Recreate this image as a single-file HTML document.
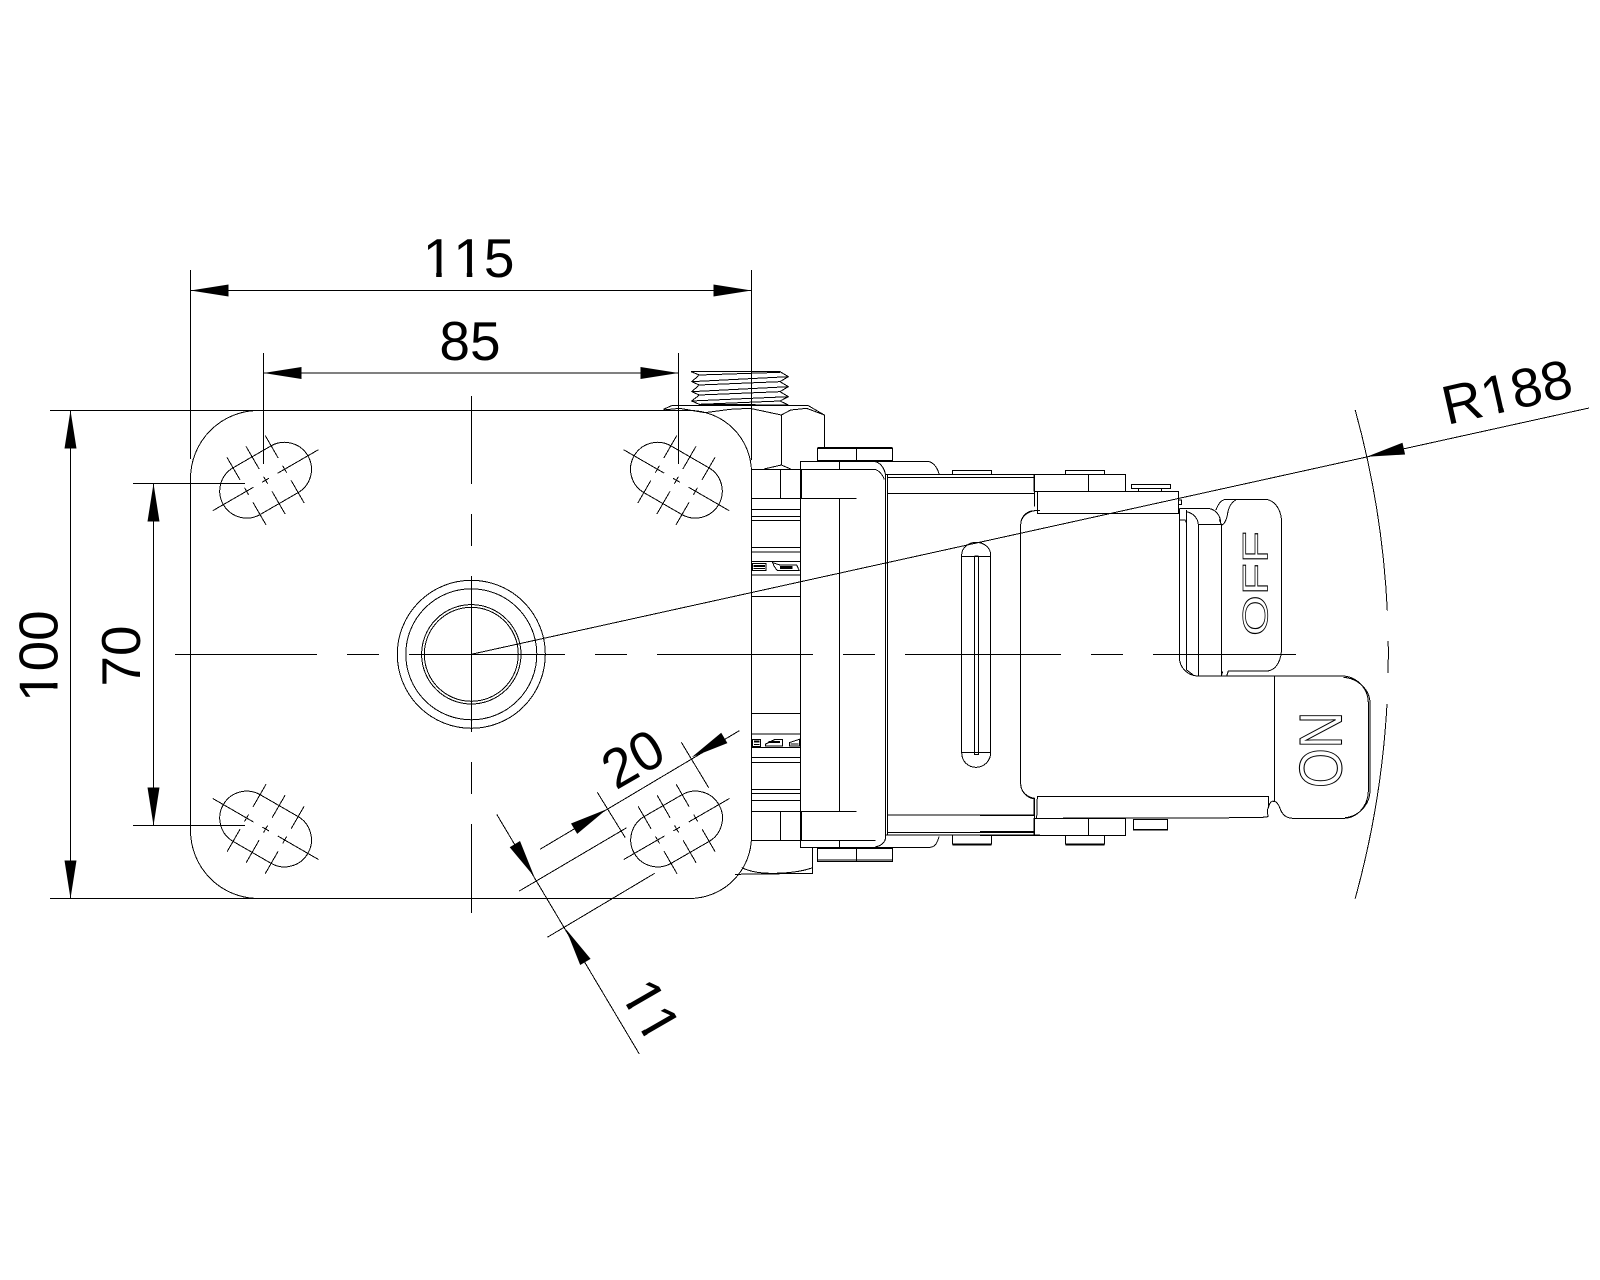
<!DOCTYPE html>
<html><head><meta charset="utf-8"><style>
html,body{margin:0;padding:0;background:#fff}
svg{display:block}
.l *{fill:none;stroke:#000;stroke-width:1;vector-effect:non-scaling-stroke}
text{font-family:"Liberation Sans",sans-serif;font-kerning:none}
.d{font-size:55px;fill:#000}
.o{fill:#fff;stroke:#000;stroke-width:1;vector-effect:non-scaling-stroke}
.w{fill:#fff}
</style></head><body>
<svg width="1600" height="1280" viewBox="0 0 1600 1280" xmlns="http://www.w3.org/2000/svg">
<rect width="1600" height="1280" fill="#fff"/>
<defs>
<g id="s">
<path d="M-21.8,-27H21.8A27,27 0 0 1 21.8,27H-21.8A27,27 0 0 1 -21.8,-27Z"/>
<path d="M-61,0H-14M14,0H61M-4,0H4M0,-4V4M-22,-4V4M22,-4V4M-26,0H-18M18,0H26"/>
<path d="M-22,-39V-13M0,-39V-13M22,-39V-13M-22,13V39M0,13V39M22,13V39"/>
</g>
</defs>
<g class="l" shape-rendering="crispEdges">
<!-- plate -->
<path d="M50,410.5H258.5A68,68 0 0 0 190.5,478.5V830.5A68,68 0 0 0 258.5,898.5H50"/>
<path d="M258.5,410.5H689.5A62,62 0 0 1 751.5,472.5V836.5A62,62 0 0 1 689.5,898.5H258.5"/>
<path d="M190.5,270V459M751.5,270V460M263.5,353V464M678.5,353V464"/>
<path d="M190.5,290.5H751.5M263.5,373H678.5M70.5,410.5V898.5M153.5,483.5V825.5"/>
<path d="M133,483.5H245M133,825.5H245"/>
<!-- centre lines -->
<path d="M175,654.5H317M347,654.5H379M409,654.5H565M595,654.5H627M657,654.5H813M843,654.5H875M905,654.5H1061M1091,654.5H1123M1153,654.5H1296"/>
<path d="M471.5,396V484M471.5,514V546M471.5,576V732M471.5,762V794M471.5,824V913"/>
<!-- hub -->
<circle cx="471.3" cy="654.3" r="74"/><circle cx="471.3" cy="654.3" r="65.5"/>
<circle cx="471.3" cy="654.3" r="49.7"/><circle cx="471.3" cy="654.3" r="47"/>
<!-- slots -->
<use href="#s" transform="translate(265.6,480.2) rotate(-30)"/>
<use href="#s" transform="translate(676.4,480.2) rotate(30)"/>
<use href="#s" transform="translate(265.6,829) rotate(30)"/>
<use href="#s" transform="translate(676.6,829) rotate(-30)"/>
<!-- 20 and 11 dimensions -->
<path d="M597.3,792.3L625.3,837.7M681.3,742.3L708.7,787.7M540,849.3L739.3,730.7"/>
<path d="M519.3,891L626.7,827.7M547.3,937.3L654.7,873.3M496.7,814.3L639.3,1054"/>
<!-- R188 -->
<path d="M471.3,654.3L1589,408"/>
<path d="M1355.2,410A917,917 0 0 1 1387.3,610.5M1388.2,641A917,917 0 0 1 1388.1,673M1387,704A917,917 0 0 1 1355.2,898.5"/>

<!-- zoom-1 coordinate space -->
<g transform="translate(640,340) scale(.33333)">
<path d="M153,95H420L445,110L420,125L445,140L420,155L445,170L420,183L445,195L178,193L155,183L178,165L155,155L178,135L155,125L178,105L153,95Z"/>
<path d="M178,105L420,97M155,125L445,110M178,135L420,125M155,155L445,140M178,165L420,155M155,183L445,170M178,193L420,183"/>
<path d="M70,208L95,197H505L553,225V322M70,210L118,205L195,218L270,208L330,205L424,225L452,210L500,205L553,225M424,225V375M372,387L424,375L452,387"/>
<path d="M533,325H757V362H533ZM533,323H757M533,363H757M649,325V362"/>
<path d="M482,900V364H700C722,366 733,385 737,405V900M742,403V900M700,364H865C882,368 893,385 897,402"/>
<path d="M485,388V475M598,364V388M334,388H705C718,392 728,405 733,418M334,475H650M598,475V900M421,388V475"/>
<path d="M334,508H482M334,530H482M334,541H482M334,622H482M334,636H482M334,665H482M334,705H482M334,769H482"/>
<path d="M338,670H378V692H338ZM340,676H375M340,680H375M340,686H375M398,668L420,675H470L478,692H412L402,678ZM420,680H458M420,683H458M420,686H458"/>
<path d="M737,403H1200M742,412H1183M742,460H1183M937,403V392H1054V403M1183,403V412V500"/>
<path d="M965,900V645A43.5,38 0 0 1 1052,645V900M965,650H1052M1003,648V900M1015,648V900M1003,648H1015"/>
<path d="M1142,900V555C1142,530 1160,512 1185,512H1200"/>
</g>

<!-- zoom-2 coordinate space -->
<g transform="translate(980,440) scale(.33333)">
<path d="M0,92H35V103M256,103V92H374V103M0,103H437V155M0,112H162M0,160H162M162,103V155M325,103V155"/>
<path d="M165,155H596V220H172V155M596,180H605V193H596"/>
<path d="M165,212C140,215 122,232 122,255V1030C122,1055 140,1072 165,1075"/>
<path d="M455,133H572V145H455ZM475,145V155M545,145V155"/>
<path d="M172,1069H866V1100L862,1110L864,1130L840,1133L170,1135Z"/>
<path d="M162,1075V1125M0,1126H162M0,1175H162M0,1187H437V1135H162V1187M325,1135V1187M0,1185H162"/>
<path d="M460,1138H562V1170H460ZM460,1168H562"/>
<path d="M256,1187V1212H374V1187M256,1215H374"/>
<path d="M598,205H680C705,205 722,225 722,250M724,250V708M598,205V650C598,685 625,708 655,708H1085C1130,708 1165,745 1165,790V1050C1165,1100 1130,1135 1090,1135H940C915,1135 905,1120 900,1105C895,1090 885,1082 883,1085C875,1080 868,1090 866,1100"/>
<path d="M620,210V690L640,705M620,215C640,220 655,235 655,255V708M655,253H724M598,240H615L620,250"/>
<path d="M884,708V1085M1090,712C1135,715 1170,750 1170,790V1050C1170,1095 1135,1130 1095,1133"/>
<path d="M708,210C715,190 725,178 740,178H860C890,185 905,215 905,250V620C905,660 890,690 862,693H745L740,708M770,178C750,190 745,205 742,225C738,245 730,255 724,255L718,238M728,695L724,708"/>
</g>

<!-- zoom-3 coordinate space -->
<g transform="translate(700,640) scale(.33333)">
<path d="M155,220H301M155,282H301M155,322H301M155,352H301M155,367H301M155,448H301M155,460H301M155,481H301"/>
<path d="M158,298H182V320H158ZM162,303H178M162,306H178M162,313H178M197,312L225,298H248V318H197ZM205,308H240M205,304H240M268,308L298,298V318H268ZM272,312H295"/>
<path d="M155,515H470M155,601H527M305,515V601M241,515V601M302,0V622H690C705,622 712,608 717,590M418,0V515M418,601V622M527,620C545,618 557,605 557,590V0"/>
<path d="M562,0V585M562,525H1003M562,577H1003M557,585H1020M1003,477V585M962,435C965,460 985,475 1005,477"/>
<path d="M757,585V612H875V585M757,615H875"/>
<path d="M353,625H577V665H353ZM353,660H577M469,625V665"/>
<path d="M338,622V700L105,703M125,683C150,695 180,700 215,700C265,700 305,695 338,683"/>
<path d="M785,337H872M785,0V337C785,365 805,382 828,382C850,382 872,365 872,337V0M823,0V343H835V0"/>
</g>
</g>

<!-- arrowheads -->
<g fill="#000">
<polygon points="190.5,290.5 228.5,284.5 228.5,296.5"/>
<polygon points="751.5,290.5 713.5,284.5 713.5,296.5"/>
<polygon points="263.5,373 301.5,367 301.5,379"/>
<polygon points="678.5,373 640.5,367 640.5,379"/>
<polygon points="70.5,410.5 64.5,448.5 76.5,448.5"/>
<polygon points="70.5,898.5 64.5,860.5 76.5,860.5"/>
<polygon points="153.5,483.5 147.5,521.5 159.5,521.5"/>
<polygon points="153.5,825.5 147.5,787.5 159.5,787.5"/>
<polygon points="606.7,809.3 577.2,833.9 571,823.5"/>
<polygon points="691.7,757.3 727.4,743.1 721.2,732.7"/>
<polygon points="534.3,876.7 520,841 509.7,847.2"/>
<polygon points="566,929.3 590.6,958.9 580.2,965"/>
<polygon points="1366.7,456.8 1405.1,454.5 1402.5,442.7"/>
</g>

<!-- labels (white strips trim the serif foot of each "1" to match the drawing's plain numeral) -->
<g transform="translate(422.7,277)"><text class="d">115</text>
<rect class="w" x="3" y="-4.6" width="10.5" height="5.2"/><rect class="w" x="19" y="-4.6" width="10" height="5.2"/>
<rect class="w" x="33.6" y="-4.6" width="10.5" height="5.2"/><rect class="w" x="49.6" y="-4.6" width="10" height="5.2"/></g>
<text class="d" x="470" y="360" text-anchor="middle">85</text>
<g transform="translate(57.3,702) rotate(-90)"><text class="d">100</text>
<rect class="w" x="3" y="-4.6" width="10.5" height="5.2"/><rect class="w" x="19" y="-4.6" width="10" height="5.2"/></g>
<text class="d" transform="translate(140,656) rotate(-90)" text-anchor="middle">70</text>
<text class="d" transform="translate(642.4,775.2) rotate(-30)" text-anchor="middle">20</text>
<g transform="translate(635,1020.7) rotate(60) translate(-31.6,0)"><text class="d">11</text>
<rect class="w" x="3" y="-4.6" width="10.5" height="5.2"/><rect class="w" x="19" y="-4.6" width="10" height="5.2"/>
<rect class="w" x="33.6" y="-4.6" width="10.5" height="5.2"/><rect class="w" x="49.6" y="-4.6" width="10" height="5.2"/></g>
<g transform="translate(1447,425) rotate(-12.8)"><text class="d">R188</text>
<rect class="w" x="42.7" y="-4.6" width="10.5" height="5.2"/><rect class="w" x="58.7" y="-4.6" width="10" height="5.2"/></g>
<text class="o" font-size="35" transform="translate(1267.3,636) rotate(-90) scale(1.5,1)">OFF</text>
<text class="o" font-size="60" transform="translate(1341.7,788) rotate(-90) scale(.85,1)">ON</text>
</svg>
</body></html>
